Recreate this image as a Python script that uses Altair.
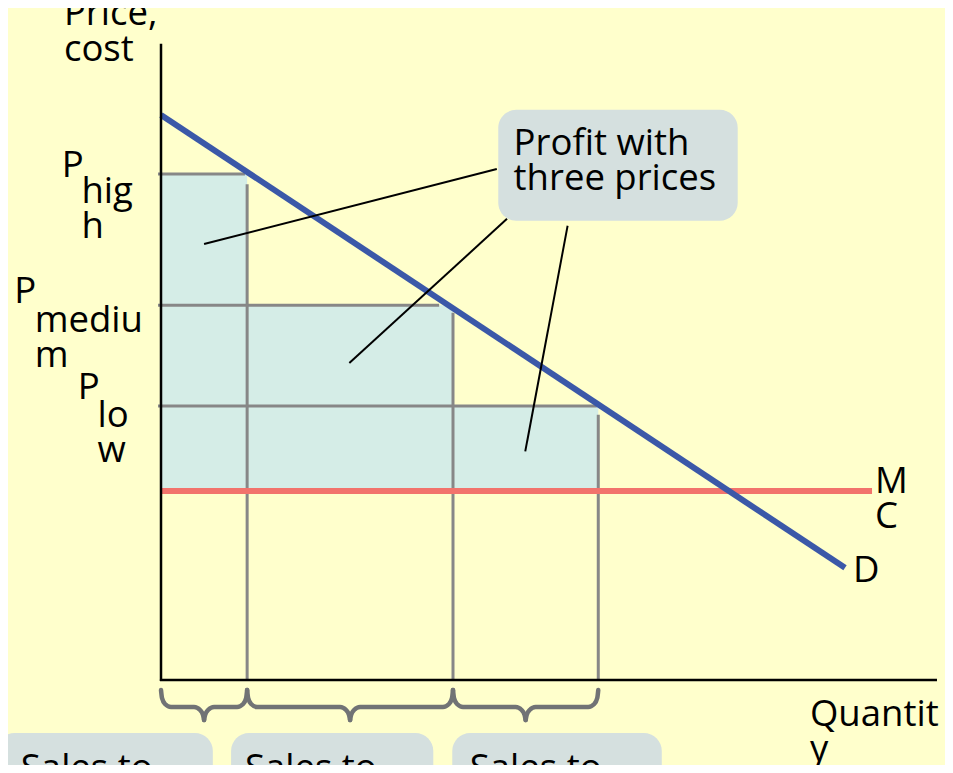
import altair as alt
import pandas as pd

# ---------------- values (economic units) ----------------
demand_q = [0.0, 93.7]
demand_p = [89.7, 17.8]
mc_price = 30.0
mc_q_end = 97.4
price_names = ["P_high", "P_medium", "P_low"]
prices = [80.3, 59.5, 43.5]
block_q = [11.8, 40.0, 59.9]              # right edge of each sales block
price_line_end = [11.5, 38.1, 59.7]       # where each grey price line stops
quantity_line_top = [78.7, 58.3, 42.1]    # where each grey quantity line starts
axis_top = 101.0
axis_right = 106.3

label_text = ["Price,", "cost",
              "P", "hig", "h",
              "P", "mediu", "m",
              "P", "lo", "w",
              "M", "C", "D",
              "Quantit", "y",
              "Profit with", "three prices",
              "Sales to", "Sales to", "Sales to"]
label_q = [-13.3, -13.3,
           -13.6, -10.9, -10.9,
           -20.1, -17.3, -17.3,
           -11.4, -8.7, -8.7,
           97.8, 97.8, 94.8,
           88.9, 88.9,
           48.3, 48.3,
           -19.2, 11.5, 42.3]
label_p = [104.0, 98.3,
           79.8, 75.7, 70.2,
           59.8, 55.2, 49.7,
           44.6, 40.2, 34.6,
           29.7, 24.1, 15.6,
           -7.3, -12.9,
           83.3, 77.8,
           -15.9, -15.9, -15.9]

# leader lines from the callout to the three profit areas
leader_q0 = [5.9, 25.8, 49.9]
leader_p0 = [69.2, 50.3, 36.3]
leader_q1 = [46.0, 47.4, 55.7]
leader_p1 = [81.1, 73.2, 72.1]

# callout boxes
profit_box = dict(q0=46.2, q1=79.0, p0=72.9, p1=90.5)
sales_box_q0 = [-22.5, 9.6, 39.9]
sales_box_q1 = [7.1, 37.3, 68.6]
sales_box_top = -8.4
sales_box_bottom = -25.0

# ---------------- layout ----------------
W, H = 937, 757
SX, SY = 7.3, 6.3                  # px per unit
OX, OY = 153, 672                  # origin inside the chart, px
xs = alt.Scale(domain=[-OX / SX, (W - OX) / SX], nice=False, zero=False)
ys = alt.Scale(domain=[-(H - OY) / SY, OY / SY], nice=False, zero=False)

BG = "#ffffcc"
SHADE = "#d5ede7"
BOX = "#d5e0df"
GREY = "#878787"
BRACE = "#717375"
MC_COL = "#f2736c"
D_COL = "#3b58a8"
FONT = "Open Sans"
FS = 36.5


def X(f):
    return alt.X(f, type="quantitative", scale=xs, axis=None)


def Y(f):
    return alt.Y(f, type="quantitative", scale=ys, axis=None)


# shaded profit rectangles
left_edges = [0.0] + block_q[:-1]
shade_df = pd.DataFrame({"q0": left_edges, "q1": block_q,
                         "p0": [mc_price] * 3, "p1": prices})
shade = alt.Chart(shade_df).mark_rect(color=SHADE).encode(
    x=X("q0"), x2="q1", y=Y("p0"), y2="p1")

# grey price and quantity lines
seg = []
for p, e in zip(prices, price_line_end):
    seg.append({"q0": -0.41, "q1": e, "p0": p, "p1": p})
for q, t in zip(block_q, quantity_line_top):
    seg.append({"q0": q, "q1": q, "p0": t, "p1": 0.0})
grey = alt.Chart(pd.DataFrame(seg)).mark_rule(color=GREY, strokeWidth=3).encode(
    x=X("q0"), x2="q1", y=Y("p0"), y2="p1")

mc = alt.Chart(pd.DataFrame({"q0": [0.0], "q1": [mc_q_end], "p": [mc_price]})).mark_rule(
    color=MC_COL, strokeWidth=6).encode(x=X("q0"), x2="q1", y=Y("p"))

demand = alt.Chart(pd.DataFrame({"q0": [demand_q[0]], "q1": [demand_q[1]],
                                 "p0": [demand_p[0]], "p1": [demand_p[1]]})).mark_rule(
    color=D_COL, strokeWidth=6).encode(x=X("q0"), x2="q1", y=Y("p0"), y2="p1")

axes_df = pd.DataFrame({"q0": [0.0, -0.15], "q1": [0.0, axis_right],
                        "p0": [axis_top, 0.0], "p1": [-0.15, 0.0]})
axes = alt.Chart(axes_df).mark_rule(color="black", strokeWidth=2.5).encode(
    x=X("q0"), x2="q1", y=Y("p0"), y2="p1")

leaders = alt.Chart(pd.DataFrame({"q0": leader_q0, "q1": leader_q1,
                                  "p0": leader_p0, "p1": leader_p1})).mark_rule(
    color="black", strokeWidth=2).encode(x=X("q0"), x2="q1", y=Y("p0"), y2="p1")

boxes_df = pd.DataFrame({"q0": [profit_box["q0"]] + sales_box_q0,
                         "q1": [profit_box["q1"]] + sales_box_q1,
                         "p0": [profit_box["p0"]] + [sales_box_bottom] * 3,
                         "p1": [profit_box["p1"]] + [sales_box_top] * 3})
boxes = alt.Chart(boxes_df).mark_rect(color=BOX, cornerRadius=18).encode(
    x=X("q0"), x2="q1", y=Y("p0"), y2="p1")

# curly braces under the quantity axis (shape offsets in px)
def py(px_below):
    return -px_below / SY

brace_rows = []
edges = [0.0] + block_q
half_shape = [(0, 10), (1, 18), (4, 24), (10, 27)]
tip_shape = [(-10, 27), (-4, 30), (-1, 35), (0, 40)]
for i in range(3):
    a, b = edges[i], edges[i + 1]
    m = (a + b) / 2
    left = [(a + dx / SX, py(dy)) for dx, dy in half_shape] + \
           [(m + dx / SX, py(dy)) for dx, dy in tip_shape]
    right = [(b - dx / SX, py(dy)) for dx, dy in half_shape] + \
            [(m - dx / SX, py(dy)) for dx, dy in tip_shape]
    right = sorted(right)
    for k, (q, p) in enumerate(left):
        brace_rows.append({"id": f"{i}L", "q": q, "p": p, "o": k})
    for k, (q, p) in enumerate(right):
        brace_rows.append({"id": f"{i}R", "q": q, "p": p, "o": k})
braces = alt.Chart(pd.DataFrame(brace_rows)).mark_line(
    color=BRACE, strokeWidth=4.5, interpolate="monotone", strokeCap="round").encode(
    x=X("q"), y=Y("p"), detail="id:N", order="o:Q")

labels = alt.Chart(pd.DataFrame({"t": label_text, "q": label_q, "p": label_p})).mark_text(
    align="left", baseline="alphabetic", font=FONT, fontSize=FS, color="black").encode(
    x=X("q"), y=Y("p"), text="t:N")

chart = alt.layer(shade, grey, mc, demand, axes, leaders, boxes, braces, labels).properties(
    width=W, height=H, autosize=alt.AutoSizeParams(type="none"), padding=0,
    background=BG).configure_view(stroke=None)

chart.save("out.html", embed_options={"renderer": "svg", "actions": False})
